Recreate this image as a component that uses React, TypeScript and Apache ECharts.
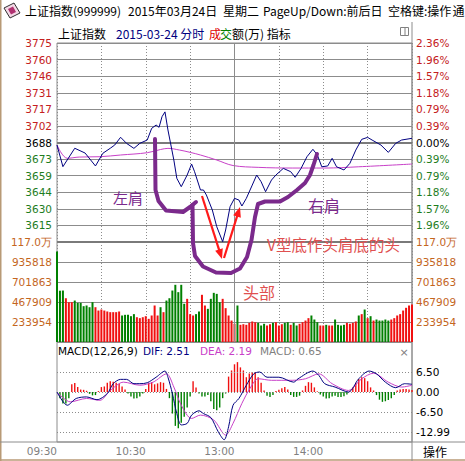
import React, { useEffect, useRef } from "react";
import * as echarts from "echarts";

// ---------- constants / tick labels ----------
const PREV_CLOSE = 3687.73;
const PRICE_STEP = 14.5;
const PRICE_HALF = 87; // 6 steps
const VOL_STEP = 233954.5;
const VOL_MAX = 1169772.5;
const MACD_HALF = 16.2375;

const priceTickLabels = ["3775", "3760", "3746", "3731", "3717", "3702", "3688", "3673", "3659", "3644", "3630", "3615"];
const pctTickLabels = ["2.36%", "1.96%", "1.57%", "1.18%", "0.79%", "0.39%", "0.00%", "0.39%", "0.79%", "1.18%", "1.57%", "1.96%"];
const volTickLabels = ["117.0万", "935818", "701863", "467909", "233954"];
const macdTickValues = [6.495, 0, -6.495, -12.99];
const macdTickLabels = ["6.50", "0.00", "-6.50", "-12.99"];
const timeTickMinutes = [0, 60, 120, 180];
const timeTickLabels = ["09:30", "10:30", "13:00", "14:00"];

// ---------- price line (minute from 09:30, index value) ----------
const priceMinutes = [0, 4, 12, 19, 26, 31, 36, 39, 43, 47, 52, 56, 61, 64, 67, 69, 71, 73, 75, 79, 81, 84, 88, 91, 93, 97, 99, 101, 105, 108, 112, 114, 117, 120, 123, 125, 128, 132, 135, 138, 141, 145, 148, 153, 158, 161, 165, 169, 173, 176, 179, 183, 186, 189, 194, 198, 202, 206, 210, 213, 219, 224, 229, 233, 240];
const priceValues = [3685.5, 3666.6, 3682.7, 3678.5, 3667.2, 3678.3, 3682.7, 3685.5, 3692.3, 3687.0, 3682.6, 3687.0, 3689.9, 3700.1, 3703.0, 3701.0, 3710.3, 3714.5, 3698.7, 3672.4, 3656.4, 3649.1, 3659.3, 3668.9, 3662.2, 3646.2, 3646.2, 3641.8, 3628.7, 3614.1, 3601.0, 3611.2, 3631.6, 3638.9, 3637.4, 3632.2, 3638.9, 3650.5, 3659.3, 3653.4, 3644.7, 3654.9, 3659.3, 3665.1, 3662.2, 3657.3, 3665.1, 3675.3, 3681.8, 3676.8, 3666.5, 3667.2, 3673.9, 3666.5, 3663.7, 3669.5, 3681.1, 3690.5, 3692.2, 3689.9, 3685.5, 3679.1, 3687.0, 3689.9, 3691.4];

// ---------- average price line ----------
const avgMinutes = [0, 7, 15, 29, 43, 61, 70, 75, 83, 90, 97, 108, 119, 136, 159, 181, 204, 240];
const avgValues = [3685.5, 3673.9, 3675.0, 3675.3, 3676.8, 3678.8, 3681.6, 3682.6, 3681.1, 3679.1, 3676.8, 3672.4, 3667.6, 3666.0, 3665.4, 3665.4, 3666.5, 3668.9];

// ---------- volume (成交额, 万), one bar every 2 minutes ----------
const barMinutes = Array.from({ length: 121 }, (_, i) => i * 2);
const volValues = [
  1058700, 600000, 602000, 512000, 465000, 466000, 485000, 458000, 458000, 419000,
  427000, 407000, 466000, 407000, 368000, 380000, 368000, 357000, 349000, 349000,
  349000, 357000, 310000, 318000, 318000, 302000, 326000, 290000, 279000, 290000,
  302000, 271000, 310000, 427000, 310000, 407000, 349000, 485000, 512000, 602000,
  669000, 583000, 669000, 447000, 505000, 326000, 310000, 326000, 357000, 552000,
  427000, 388000, 505000, 575000, 563000, 466000, 505000, 396000, 310000, 251000,
  213000, 427000, 201000, 208000, 201000, 224000, 240000, 232000, 224000, 193000,
  213000, 193000, 208000, 224000, 232000, 193000, 208000, 224000, 232000, 201000,
  224000, 193000, 213000, 232000, 251000, 279000, 310000, 263000, 232000, 193000,
  193000, 201000, 193000, 193000, 263000, 201000, 193000, 201000, 224000, 213000,
  224000, 240000, 310000, 326000, 380000, 279000, 302000, 251000, 263000, 251000,
  251000, 263000, 251000, 263000, 279000, 310000, 326000, 368000, 400000, 427000,
  439000,
];
// 1 = up (red), 0 = down (green)
const volUp = [
  0, 0, 0, 1, 1, 1, 0, 0, 0, 0,
  0, 0, 0, 1, 1, 1, 1, 1, 1, 1,
  1, 1, 0, 0, 0, 0, 0, 1, 1, 1,
  1, 1, 1, 1, 1, 0, 1, 0, 0, 0,
  0, 0, 0, 0, 1, 1, 1, 0, 0, 1,
  1, 0, 0, 0, 0, 0, 1, 1, 1, 1,
  1, 0, 1, 1, 1, 1, 1, 1, 0, 0,
  0, 1, 1, 0, 1, 1, 1, 0, 0, 1,
  0, 0, 1, 1, 1, 1, 0, 0, 0, 1,
  1, 0, 1, 1, 0, 0, 0, 0, 1, 1,
  1, 1, 0, 1, 0, 1, 0, 1, 0, 0,
  0, 0, 0, 1, 1, 1, 1, 1, 1, 1,
  1,
];

// ---------- MACD ----------
const macdHist = [
  0, -2.0, -3.7, -3.7, -2.0, 2.5, 2.9, 1.6, 0.8, 0.7,
  0.4, -0.6, -1.1, -1.0, 0.3, 1.6, 1.8, 3.0, 3.5, 3.3,
  3.0, 2.6, 1.8, 0.8, -0.5, -1.5, -2.1, -2.0, -1.5, -0.5,
  1.0, 3.0, 3.2, 2.5, 2.8, 3.2, 3.0, 1.0, -2.0, -7.0,
  -11.0, -11.8, -10.0, -8.0, -5.0, -1.5, 3.5, 1.5, -0.5, -1.5,
  -1.5, -1.0, -3.0, -5.5, -5.9, -5.0, -2.0, -0.5, 5.0, 7.0,
  9.0, 9.7, 8.0, 7.0, 4.8, 6.0, 6.5, 6.5, 4.8, 3.0,
  0.5, -1.2, -1.6, -1.0, 0.3, 0.7, 1.2, 1.6, 0.8, -1.0,
  -1.6, -1.6, -1.2, 0.5, 2.0, 3.2, 3.0, 1.5, 0.2, -0.8,
  -1.5, -2.1, -2.0, -1.5, -1.2, -1.6, -1.6, -1.4, -0.8, 0.2,
  1.5, 3.0, 4.2, 4.8, 4.5, 3.5, 1.5, 0.5, -1.0, -2.5,
  -3.2, -3.0, -2.6, -2.0, -1.0, 0.5, 0.8, 1.0, 1.0, 0.8,
  0.65,
];
const difMinutes = [0, 7, 13, 20, 27, 34, 38, 43, 47, 52, 56, 61, 67, 73, 75, 78, 81, 84, 88, 91, 96, 99, 104, 109, 113, 116, 119, 123, 128, 133, 137, 142, 150, 160, 163, 173, 177, 181, 188, 197, 204, 211, 216, 222, 229, 235, 240];
const difValues = [0, -4.3, -2.1, -1.6, -2.5, -0.5, 2.7, 4.1, 4.1, 2.7, 2.7, 3.0, 4.8, 6.8, 4.8, -0.5, -7.0, -10.7, -10.2, -7.5, -6.1, -7.0, -8.3, -12.9, -15.5, -11.3, -4.3, -2.1, 2.2, 5.9, 6.5, 4.8, 4.8, 3.2, 4.3, 6.8, 5.4, 2.7, 1.6, 0.0, 4.3, 6.8, 5.9, 3.2, 1.4, 2.7, 2.51];
const deaMinutes = [0, 9, 20, 29, 36, 45, 56, 65, 74, 79, 84, 91, 97, 106, 114, 119, 125, 131, 136, 145, 159, 168, 177, 186, 197, 206, 214, 224, 233, 240];
const deaValues = [0, -3.2, -2.1, -2.7, 0.5, 3.2, 2.2, 3.2, 5.9, 1.6, -4.3, -8.6, -7.5, -9.1, -14.0, -10.2, -3.7, 1.6, 4.3, 3.8, 3.8, 4.3, 5.9, 2.7, 0.5, 4.3, 6.1, 3.2, 1.6, 2.19];

// ---------- styles ----------
const NUM_FONT = "DejaVu Sans";
const CJK_FONT = '"Noto Sans CJK SC", sans-serif';
const GRID_C = "#8c8c8c";
const RED_T = "#c42020";
const GREEN_T = "#1e7d1e";
const VOL_T = "#c4661e";
const UP_C = "#f01010";
const DN_C = "#008000";
const NAVY = "#000080";
const MAGENTA = "#c840c8";
const PURPLE = "#7b2a8c";
const ANNO_RED = "#e05050";
const ARROW_RED = "#ff1a1a";

const purpleStroke1 = [[155, 139], [155.5, 190], [158.5, 201], [166, 210.5], [183, 212], [190, 207], [196, 202]];
const purpleStroke2 = [[192.5, 205], [193, 243], [195, 256], [203, 266.5], [216, 272.5], [231, 273], [240, 268.5], [247, 257], [251.5, 240], [255, 217], [258, 204], [265, 201.5], [280, 201.5], [288, 197], [297, 190], [305, 183], [310, 175], [313.5, 165], [317, 154]];
const arrows = [
  { tail: [202, 196], tip: [222, 259] },
  { tail: [224, 258], tip: [240, 207] },
];

function arrowParts(tail: number[], tip: number[]) {
  const dx = tip[0] - tail[0];
  const dy = tip[1] - tail[1];
  const L = Math.hypot(dx, dy);
  const ux = dx / L, uy = dy / L;
  const len = 10, half = 4;
  const bx = tip[0] - ux * len, by = tip[1] - uy * len;
  return [
    { type: "line", shape: { x1: tail[0], y1: tail[1], x2: bx + ux * 2, y2: by + uy * 2 }, style: { stroke: ARROW_RED, lineWidth: 2.2 }, z: 100 },
    { type: "polygon", shape: { points: [[tip[0], tip[1]], [bx - uy * half, by + ux * half], [bx + uy * half, by - ux * half]] }, style: { fill: ARROW_RED }, z: 100 },
  ];
}

function txt(text: string, x: number, y: number, fill: string, size: number, family: string, align = "left") {
  return {
    type: "text",
    x,
    y,
    z: 100,
    style: { text, fill, fontSize: size, fontFamily: family, align, textAlign: align, verticalAlign: "middle", textVerticalAlign: "middle" },
  };
}

const priceIdx = (v: any) => Math.round((PRICE_HALF - Number(v)) / PRICE_STEP);
const priceColor = (v: any) => {
  const i = priceIdx(v);
  return i < 6 ? RED_T : i === 6 ? "#000000" : GREEN_T;
};
const volIdx = (v: any) => Math.round((VOL_MAX - Number(v)) / VOL_STEP);

function buildOption() {
  const xBase = {
    type: "value",
    min: 0,
    max: 240,
    interval: 30,
    axisLine: { show: false },
    axisTick: { show: false },
  };
  const labelBase = { fontSize: 10.5, fontFamily: NUM_FONT };

  return {
    animation: false,
    backgroundColor: "#ffffff",
    grid: [
      { left: 57, top: 43, width: 355, height: 199, show: true, borderColor: GRID_C, borderWidth: 1 },
      { left: 57, top: 242, width: 355, height: 100, show: true, borderColor: GRID_C, borderWidth: 1 },
      { left: 57, top: 342, width: 355, height: 100, show: true, borderColor: GRID_C, borderWidth: 1 },
    ],
    xAxis: [
      { ...xBase, gridIndex: 0, axisLabel: { show: false }, splitLine: { show: true, lineStyle: { color: GRID_C, type: [1, 2], width: 1 } } },
      { ...xBase, gridIndex: 1, axisLabel: { show: false }, splitLine: { show: true, lineStyle: { color: GRID_C, type: [1, 2], width: 1 } } },
      {
        ...xBase,
        gridIndex: 2,
        splitLine: { show: false },
        axisLabel: {
          ...labelBase,
          show: true,
          color: "#808080",
          align: "right",
          margin: 3,
          formatter: (v: any) => {
            const i = timeTickMinutes.indexOf(Number(v));
            return i >= 0 ? timeTickLabels[i] : "";
          },
        },
      },
    ],
    yAxis: [
      {
        type: "value", gridIndex: 0, position: "left", min: -PRICE_HALF, max: PRICE_HALF, interval: PRICE_STEP,
        axisLine: { show: false }, axisTick: { show: false },
        splitLine: { show: true, lineStyle: { color: GRID_C, width: 1, type: "solid" } },
        axisLabel: { ...labelBase, margin: 5, showMinLabel: false, color: priceColor, formatter: (v: any) => priceTickLabels[priceIdx(v)] ?? "" },
      },
      {
        type: "value", gridIndex: 0, position: "right", min: -PRICE_HALF, max: PRICE_HALF, interval: PRICE_STEP,
        axisLine: { show: false }, axisTick: { show: false }, splitLine: { show: false },
        axisLabel: { ...labelBase, margin: 4, showMinLabel: false, color: priceColor, formatter: (v: any) => pctTickLabels[priceIdx(v)] ?? "" },
      },
      {
        type: "value", gridIndex: 1, position: "left", min: 0, max: VOL_MAX, interval: VOL_STEP,
        axisLine: { show: false }, axisTick: { show: false },
        splitLine: { show: true, lineStyle: { color: GRID_C, width: 1, type: "solid" } },
        axisLabel: { ...labelBase, margin: 5, showMinLabel: false, color: VOL_T, formatter: (v: any) => volTickLabels[volIdx(v)] ?? "" },
      },
      {
        type: "value", gridIndex: 1, position: "right", min: 0, max: VOL_MAX, interval: VOL_STEP,
        axisLine: { show: false }, axisTick: { show: false }, splitLine: { show: false },
        axisLabel: { ...labelBase, margin: 4, showMinLabel: false, color: VOL_T, formatter: (v: any) => volTickLabels[volIdx(v)] ?? "" },
      },
      {
        type: "value", gridIndex: 2, position: "right", min: -MACD_HALF, max: MACD_HALF,
        axisLine: { show: false }, axisTick: { show: false }, splitLine: { show: false }, axisLabel: { show: false },
      },
    ],
    series: [
      {
        name: "均价", type: "line", xAxisIndex: 0, yAxisIndex: 0, z: 3,
        data: avgMinutes.map((m, i) => [m, avgValues[i] - PREV_CLOSE]),
        symbol: "none", smooth: 0.35, lineStyle: { color: MAGENTA, width: 1 },
        markLine: {
          silent: true, symbol: ["none", "none"], label: { show: false },
          data: [
            { yAxis: 0, lineStyle: { color: "#7a7a7a", width: 2, type: "solid" } },
            { xAxis: 120, lineStyle: { color: GRID_C, width: 1, type: "solid" } },
          ],
        },
      },
      {
        name: "上证指数", type: "line", xAxisIndex: 0, yAxisIndex: 0, z: 5,
        data: priceMinutes.map((m, i) => [m, priceValues[i] - PREV_CLOSE]),
        symbol: "none", lineStyle: { color: NAVY, width: 1 },
      },
      {
        name: "成交额", type: "bar", xAxisIndex: 1, yAxisIndex: 2, barWidth: 2,
        data: barMinutes.map((m, i) => ({ value: [m, volValues[i]], itemStyle: { color: volUp[i] ? UP_C : DN_C } })),
        markLine: {
          silent: true, symbol: ["none", "none"], label: { show: false },
          data: [
            { xAxis: 120, lineStyle: { color: GRID_C, width: 1, type: "solid" } },
            { yAxis: VOL_MAX, lineStyle: { color: "#7a7a7a", width: 2, type: "solid" } },
          ],
        },
      },
      {
        name: "MACD", type: "bar", xAxisIndex: 2, yAxisIndex: 4, barWidth: 1.4, clip: false,
        data: barMinutes.map((m, i) => ({ value: [m, macdHist[i]], itemStyle: { color: macdHist[i] >= 0 ? UP_C : DN_C } })),
        markLine: {
          silent: true, symbol: ["none", "none"],
          lineStyle: { color: GRID_C, width: 1, type: [1, 2] },
          label: { show: true, position: "end", distance: 4, color: "#000000", fontSize: 10.5, fontFamily: NUM_FONT },
          data: macdTickValues.map((v, i) => ({ yAxis: v, label: { formatter: macdTickLabels[i] } })),
        },
      },
      {
        name: "DEA", type: "line", xAxisIndex: 2, yAxisIndex: 4, z: 4,
        data: deaMinutes.map((m, i) => [m, deaValues[i]]),
        symbol: "none", smooth: 0.3, lineStyle: { color: MAGENTA, width: 1 },
      },
      {
        name: "DIF", type: "line", xAxisIndex: 2, yAxisIndex: 4, z: 5,
        data: difMinutes.map((m, i) => [m, difValues[i]]),
        symbol: "none", smooth: 0.3, lineStyle: { color: NAVY, width: 1 },
      },
    ],
    graphic: [
      // window frame
      { type: "line", shape: { x1: 0.75, y1: 0, x2: 0.75, y2: 461 }, style: { stroke: "#b89a76", lineWidth: 1.5 } },
      { type: "line", shape: { x1: 0, y1: 460, x2: 465, y2: 460 }, style: { stroke: "#b89a76", lineWidth: 1.5 } },
      // panel separators
      { type: "line", shape: { x1: 0, y1: 442, x2: 465, y2: 442 }, style: { stroke: GRID_C, lineWidth: 1 } },
      { type: "line", shape: { x1: 412, y1: 22, x2: 412, y2: 461 }, style: { stroke: GRID_C, lineWidth: 1 } },
      // title icon
      { type: "polygon", shape: { points: [[4, 8], [14, 3], [20, 13], [10, 18]] }, style: { fill: "#f4d8e6", stroke: "#303030", lineWidth: 1 } },
      { type: "polygon", shape: { points: [[8, 9], [13, 6.5], [16, 12], [11, 14.5]] }, style: { fill: "#b03070" } },
      // title bar
      txt("上证指数(999999)", 25, 10.5, "#000000", 12, CJK_FONT),
      txt("2015年03月24日", 128, 10.5, "#000000", 12, CJK_FONT),
      txt("星期二", 223, 10.5, "#000000", 12, CJK_FONT),
      txt("PageUp/Down:前后日", 263, 10.5, "#000000", 12, CJK_FONT),
      txt("空格键:操作", 388, 10.5, "#000000", 12, CJK_FONT),
      txt("通", 452.5, 10.5, "#000000", 12, CJK_FONT),
      // header line
      txt("上证指数", 58, 33, "#000000", 12, CJK_FONT),
      txt("2015-03-24 分时", 116, 33, NAVY, 12, CJK_FONT),
      txt("成", 209, 33, "#e00000", 12, CJK_FONT),
      txt("交", 220, 33, "#008000", 12, CJK_FONT),
      txt("额(万) 指标", 232, 33, "#000000", 12, CJK_FONT),
      { type: "rect", shape: { x: 400.5, y: 27.5, width: 8, height: 8 }, style: { fill: "none", stroke: "#808080", lineWidth: 1 } },
      { type: "line", shape: { x1: 405, y1: 27.5, x2: 405, y2: 35.5 }, style: { stroke: "#808080", lineWidth: 1 } },
      // MACD header
      txt("MACD(12,26,9)", 58, 351, "#000000", 10.5, NUM_FONT),
      txt("DIF: 2.51", 143, 351, NAVY, 10.5, NUM_FONT),
      txt("DEA: 2.19", 200, 351, MAGENTA, 10.5, NUM_FONT),
      txt("MACD: 0.65", 260, 351, "#808080", 10.5, NUM_FONT),
      txt("×", 404, 352, "#808080", 11, NUM_FONT, "center"),
      // bottom-right
      txt("操作", 435, 451, "#000000", 12, CJK_FONT, "center"),
      // annotations
      { type: "polyline", shape: { points: purpleStroke1 }, style: { stroke: PURPLE, lineWidth: 4, lineJoin: "round", lineCap: "round" }, z: 99 },
      { type: "polyline", shape: { points: purpleStroke2 }, style: { stroke: PURPLE, lineWidth: 4, lineJoin: "round", lineCap: "round" }, z: 99 },
      ...arrowParts(arrows[0].tail, arrows[0].tip),
      ...arrowParts(arrows[1].tail, arrows[1].tip),
      txt("左肩", 128, 197, PURPLE, 15, CJK_FONT, "center"),
      txt("右肩", 324, 205, PURPLE, 16, CJK_FONT, "center"),
      txt("V型底作头肩底的头", 267, 244, ANNO_RED, 15.5, CJK_FONT),
      txt("头部", 259, 292, ANNO_RED, 16, CJK_FONT, "center"),
    ],
  };
}

export default function App() {
  const ref = useRef<HTMLDivElement>(null);
  useEffect(() => {
    const el = ref.current;
    if (!el) return;
    const chart = echarts.init(el, undefined, { renderer: "svg", width: 465, height: 461 });
    chart.setOption(buildOption() as any);
    return () => chart.dispose();
  }, []);
  return (
    <div
      ref={ref}
      style={{ position: "fixed", left: 0, top: 0, width: 465, height: 461, background: "#ffffff" }}
    />
  );
}
